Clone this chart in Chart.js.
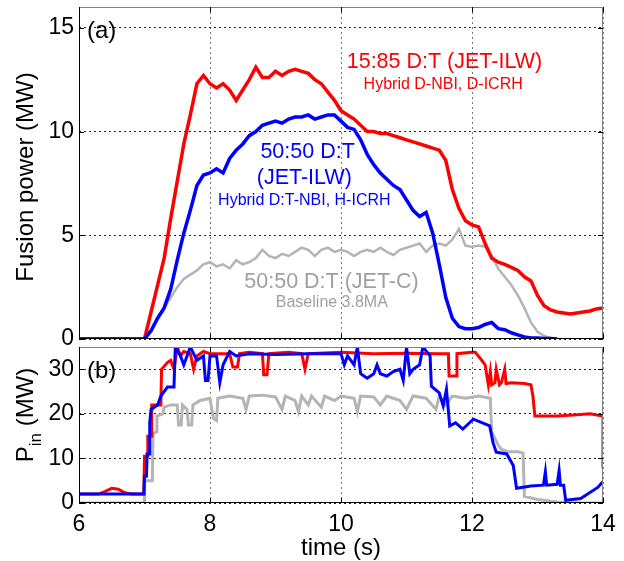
<!DOCTYPE html>
<html>
<head>
<meta charset="utf-8">
<script src="https://cdn.jsdelivr.net/npm/chart.js"></script>
<style>
  body { margin: 0; background: #fff; }
  canvas { position: absolute; left: 0; }
  #fusion { top: 0px; }
  #pin { top: 340px; }
</style>
</head>
<body>
<canvas id="fusion" width="624" height="350"></canvas>
<canvas id="pin" width="624" height="221"></canvas>
<script>
var FONT = 'Liberation Sans, Arial, Helvetica, sans-serif';
var RED = '#ff0000', BLUE = '#0000ff', GREY = '#b4b4b4';

var xTicks = [6, 8, 10, 12, 14];
var fusTicks = [0, 5, 10, 15];
var pinTicks = [0, 10, 20, 30];

// (a) fusion power, MW, sampled every 0.1 s
var tFus = [6.0, 7.0, 7.1, 7.2, 7.3, 7.4, 7.5, 7.6, 7.7, 7.8, 7.9,
    8.0, 8.1, 8.2, 8.3, 8.4, 8.5, 8.6, 8.7, 8.8, 8.9,
    9.0, 9.1, 9.2, 9.3, 9.4, 9.5, 9.6, 9.7, 9.8, 9.9,
    10.0, 10.1, 10.2, 10.3, 10.4, 10.5, 10.6, 10.7, 10.8, 10.9,
    11.0, 11.1, 11.2, 11.3, 11.4, 11.5, 11.6, 11.7, 11.8, 11.9,
    12.0, 12.1, 12.2, 12.3, 12.4, 12.5, 12.6, 12.7, 12.8, 12.9,
    13.0, 13.1, 13.2, 13.3, 13.4, 13.5, 13.6, 13.7, 13.8, 13.9, 14.0];
var fusRed = [0, 0, 1.3, 2.6, 3.9, 5.8, 7.6, 9.4, 10.8, 12.3, 12.7,
    12.3, 12.1, 12.3, 12.0, 11.5, 12.0, 12.5, 13.1, 12.6, 12.6,
    12.9, 12.7, 12.9, 13.0, 12.9, 12.8, 12.5, 12.3, 11.9, 11.5,
    11.0, 10.8, 10.6, 10.3, 10.0, 10.0, 9.9, 9.9, 9.8, 9.7,
    9.6, 9.5, 9.4, 9.3, 9.2, 9.1, 8.6, 7.2, 6.3, 5.7,
    5.5, 5.4, 4.6, 3.9, 3.7, 3.6, 3.45, 3.3, 3.0, 2.8,
    2.1, 1.6, 1.4, 1.3, 1.25, 1.2, 1.25, 1.3, 1.35, 1.45, 1.5];
var fusBlue = [0, 0, 0.4, 1.0, 1.5, 2.4, 3.8, 5.1, 6.2, 7.4, 7.9,
    8.0, 8.2, 8.0, 8.7, 9.1, 9.4, 9.8, 10.0, 10.3, 10.4,
    10.5, 10.4, 10.6, 10.7, 10.7, 10.8, 10.6, 10.7, 10.8, 10.8,
    10.5, 10.2, 10.1, 9.6, 8.9, 8.4, 8.0, 7.7, 7.4, 7.2,
    6.7, 6.2, 5.9, 6.1, 5.1, 3.6, 2.0, 1.0, 0.6, 0.5,
    0.5, 0.55, 0.7, 0.8, 0.5, 0.45, 0.3, 0.2, 0.1, 0.05,
    0.05, 0.03, 0.02, 0];
var fusGrey = [0, 0, 0.4, 1.0, 1.5, 2.0, 2.5, 2.9, 3.1, 3.3, 3.6,
    3.7, 3.5, 3.6, 3.4, 3.8, 3.6, 3.7, 3.9, 4.3, 4.0,
    3.9, 4.1, 4.0, 4.2, 4.4, 4.3, 4.0, 4.3, 4.4, 4.2,
    4.3, 4.2, 4.0, 4.2, 4.3, 4.2, 4.4, 4.2, 4.05, 4.3,
    4.4, 4.5, 4.6, 4.2, 4.5, 4.6, 4.5, 4.8, 5.3, 4.5,
    4.45, 4.5, 4.45, 4.0, 3.4, 3.0, 2.6, 2.1, 1.5, 0.8,
    0.35, 0.15, 0.05, 0, 0];

// (b) input power, MW
var pinRedT = [6.0, 6.3, 6.4, 6.5, 6.6, 6.7, 6.8, 6.99, 7.0, 7.04, 7.05, 7.1, 7.11, 7.25, 7.26, 7.35, 7.4, 7.45,
    7.5, 7.55, 7.6, 7.7, 7.75, 7.8, 7.9, 8.0, 8.3, 8.35, 8.42, 8.45, 8.6, 8.8, 8.82, 8.87, 8.9, 9.2, 9.4, 9.45,
    9.5, 10.0, 10.5, 11.0, 11.5, 11.64, 11.65, 11.76, 11.77, 12.0, 12.05, 12.15, 12.2, 12.25, 12.28, 12.3, 12.35,
    12.37, 12.42, 12.45, 12.5, 12.52, 12.6, 12.8, 12.9, 12.93, 12.96, 13.3, 13.6, 13.8, 14.0, 14.0];
var pinRedV = [2.0, 2.0, 2.6, 3.3, 3.1, 2.3, 2.0, 2.0, 10.5, 10.5, 15, 15, 22, 22, 30, 31.5, 32, 30,
    35, 33, 34, 33.5, 30, 33, 34, 33.5, 33.5, 30.5, 30.5, 33.5, 33.8, 33.5, 28.8, 28.8, 33.5, 33.8, 33.5, 30,
    33.5, 33.8, 33.5, 33.6, 33.5, 33.5, 28.5, 28.5, 33.5, 33.8, 33.8, 32, 31, 26.5, 29.5, 26.5, 27,
    30, 26.5, 27, 30, 26.8, 27, 26.8, 26.5, 24, 19.5, 19.5, 19.8, 20, 19.5, 7.8];
var pinBlueT = [6.0, 6.99, 7.0, 7.03, 7.04, 7.07, 7.08, 7.1, 7.2, 7.25, 7.3, 7.35, 7.45, 7.47, 7.55, 7.6, 7.7,
    7.8, 7.9, 7.93, 7.97, 8.0, 8.1, 8.15, 8.2, 8.3, 8.4, 8.6, 9.0, 9.5, 10.0, 10.05, 10.1, 10.2, 10.25, 10.3,
    10.4, 10.5, 10.55, 10.6, 10.7, 10.8, 10.9, 10.95, 11.0, 11.05, 11.1, 11.2, 11.25, 11.36, 11.38, 11.5,
    11.56, 11.61, 11.66, 11.75, 11.86, 12.02, 12.27, 12.32, 12.37, 12.53, 12.63, 12.68, 12.9, 13.09, 13.12,
    13.14, 13.3, 13.33, 13.35, 13.4, 13.43, 13.66, 13.92, 14.0];
var pinBlueV = [2.0, 2.0, 6, 6, 11, 11, 18, 21, 22, 24, 25, 26, 26, 35, 33, 31, 35,
    32, 33, 27.5, 27.5, 33, 33, 27, 31, 34, 33, 33.5, 33.3, 33.5, 33.5, 31, 33, 31, 35, 29,
    28, 29, 31, 29, 28.5, 29.5, 30, 27.5, 35, 29, 30, 31, 35, 33, 26.2, 24.7,
    21.8, 25.5, 17.3, 18, 16.6, 18.8, 17.3, 13.6, 11.4, 11, 8.4, 3.3, 3.8, 4.0, 7,
    4, 4.2, 7.3, 4, 4, 0.6, 1.0, 3.5, 4.8];
var pinGreyT = [6.0, 7.0, 7.0, 7.12, 7.13, 7.18, 7.19, 7.28, 7.3, 7.4, 7.5, 7.52, 7.56, 7.58, 7.65, 7.67, 7.72,
    7.74, 7.85, 8.0, 8.05, 8.1, 8.12, 8.3, 8.5, 8.55, 8.6, 8.8, 9.0, 9.1, 9.15, 9.3, 9.35, 9.4, 9.5, 9.55,
    9.7, 9.75, 9.9, 10.0, 10.2, 10.25, 10.3, 10.5, 10.6, 10.7, 10.9, 11.0, 11.1, 11.3, 11.45, 11.5, 11.6,
    11.7, 11.9, 12.1, 12.28, 12.3, 12.4, 12.45, 12.55, 12.7, 12.78, 12.8, 13.0, 13.3, 13.5, 14.0];
var pinGreyV = [0, 0, 5, 5, 15.5, 16, 19.5, 20, 21.5, 22, 22, 17.5, 17.5, 22, 21, 17.5, 17.5,
    22, 23, 23.5, 19, 18.5, 23.5, 24, 23.5, 21, 24, 24.2, 23.8, 21, 24, 23, 20.5, 24, 22, 24,
    21.5, 24, 23, 24, 23.5, 20.5, 24, 23.8, 22, 24, 23, 21, 24, 23.5, 21, 24, 22,
    24, 23.5, 24, 23.5, 16, 13, 12, 11.5, 11.5, 11.2, 1.5, 0.8, 0.2, 0, 0];

var fusNotes = [
    { text: '15:85 D:T (JET-ILW)', x: 11.58, y: 13.35, color: RED, size: 21.5 },
    { text: 'Hybrid D-NBI, D-ICRH', x: 11.56, y: 12.24, color: RED, size: 16 },
    { text: '50:50 D:T', x: 9.49, y: 9.0, color: BLUE, size: 21.5 },
    { text: '(JET-ILW)', x: 9.44, y: 7.74, color: BLUE, size: 21.5 },
    { text: 'Hybrid D:T-NBI, H-ICRH', x: 9.44, y: 6.68, color: BLUE, size: 16 },
    { text: '50:50 D:T (JET-C)', x: 9.855, y: 2.76, color: '#a0a0a0', size: 21.5 },
    { text: 'Baseline 3.8MA', x: 9.86, y: 1.74, color: '#a0a0a0', size: 16 }
];

function xy(ts, vs) {
    return vs.map(function (v, i) { return { x: ts[i], y: v }; });
}

function line(data, color, width) {
    return { data: data, borderColor: color, borderWidth: width, pointRadius: 0, tension: 0, fill: false,
        borderJoinStyle: 'miter' };
}

function setTicks(values) {
    return function (s) { s.ticks = values.map(function (v) { return { value: v }; }); };
}

// box, inward ticks, panel letter, y title and text notes
function framePlugin(letter, notes, drawTitle) {
    return {
        id: 'frame',
        afterDraw: function (chart) {
            var ctx = chart.ctx, a = chart.chartArea, sx = chart.scales.x, sy = chart.scales.y;
            ctx.save();
            ctx.lineWidth = 1;
            ctx.strokeStyle = '#808080';
            ctx.beginPath();
            ctx.moveTo(a.left, a.top + 0.5); ctx.lineTo(a.right - 0.5, a.top + 0.5); ctx.lineTo(a.right - 0.5, a.bottom);
            ctx.stroke();
            ctx.strokeStyle = '#000';
            ctx.beginPath();
            ctx.moveTo(a.left + 0.5, a.top); ctx.lineTo(a.left + 0.5, a.bottom - 0.5); ctx.lineTo(a.right, a.bottom - 0.5);
            sx.ticks.forEach(function (t) {
                var px = Math.round(sx.getPixelForValue(t.value)) + 0.5;
                ctx.moveTo(px, a.bottom); ctx.lineTo(px, a.bottom - 5);
                ctx.moveTo(px, a.top); ctx.lineTo(px, a.top + 5);
            });
            sy.ticks.forEach(function (t) {
                var py = Math.round(sy.getPixelForValue(t.value)) + 0.5;
                ctx.moveTo(a.left, py); ctx.lineTo(a.left + 5, py);
                ctx.moveTo(a.right, py); ctx.lineTo(a.right - 5, py);
            });
            ctx.stroke();

            ctx.fillStyle = '#000';
            ctx.font = '24px ' + FONT;
            ctx.textAlign = 'left';
            ctx.textBaseline = 'middle';
            ctx.fillText(letter, a.left + 8, a.top + 24);

            ctx.textAlign = 'center';
            notes.forEach(function (n) {
                ctx.fillStyle = n.color;
                ctx.font = n.size + 'px ' + FONT;
                ctx.fillText(n.text, sx.getPixelForValue(n.x), sy.getPixelForValue(n.y));
            });

            drawTitle(ctx);
            ctx.restore();
        }
    };
}

function baseOptions(yMax, yTicks, xAxisHeight, showX) {
    return {
        responsive: false,
        animation: false,
        events: [],
        layout: { padding: { left: 0, right: 21, top: 7, bottom: 0 } },
        plugins: { legend: { display: false }, tooltip: { enabled: false } },
        scales: {
            x: {
                type: 'linear', min: 6, max: 14,
                afterBuildTicks: setTicks(xTicks),
                ticks: { display: showX, color: '#000', padding: 8, font: { family: FONT, size: 23 } },
                grid: { color: '#777', drawTicks: false },
                border: { display: false, dash: [2, 3] },
                title: { display: showX, text: 'time (s)', color: '#000',
                    font: { family: FONT, size: 24, lineHeight: 1 }, padding: { top: 0, bottom: 1 } },
                afterFit: function (s) { s.height = xAxisHeight; s.paddingLeft = 0; s.paddingRight = 0; }
            },
            y: {
                min: 0, max: yMax,
                afterBuildTicks: setTicks(yTicks),
                ticks: { color: '#000', padding: 5, font: { family: FONT, size: 23 } },
                grid: { color: '#222', drawTicks: false },
                border: { display: false, dash: [2, 3] },
                afterFit: function (s) { s.width = 79; s.paddingTop = 0; s.paddingBottom = 0; }
            }
        }
    };
}

new Chart(document.getElementById('fusion'), {
    type: 'line',
    data: {
        datasets: [
            line(xy(tFus, fusBlue), BLUE, 3.5),
            line(xy(tFus, fusRed), RED, 3.5),
            line(xy(tFus, fusGrey), GREY, 2.5)
        ]
    },
    options: baseOptions(16, fusTicks, 11, false),
    plugins: [framePlugin('(a)', fusNotes, function (ctx) {
        ctx.save();
        ctx.translate(33, 177);
        ctx.rotate(-Math.PI / 2);
        ctx.fillStyle = '#000';
        ctx.font = '24px ' + FONT;
        ctx.textAlign = 'center';
        ctx.textBaseline = 'alphabetic';
        ctx.fillText('Fusion power (MW)', 0, 0);
        ctx.restore();
    })]
});

new Chart(document.getElementById('pin'), {
    type: 'line',
    data: {
        datasets: [
            line(xy(pinBlueT, pinBlueV), BLUE, 3),
            line(xy(pinRedT, pinRedV), RED, 3),
            line(xy(pinGreyT, pinGreyV), GREY, 3)
        ]
    },
    options: baseOptions(35, pinTicks, 58, true),
    plugins: [framePlugin('(b)', [], function (ctx) {
        var big = '24px ' + FONT, small = '17px ' + FONT;
        ctx.save();
        ctx.font = big;
        var wP = ctx.measureText('P').width, wM = ctx.measureText(' (MW)').width;
        ctx.font = small;
        var wS = ctx.measureText('in').width;
        var total = wP + wS + wM;
        ctx.translate(33, 75);
        ctx.rotate(-Math.PI / 2);
        ctx.fillStyle = '#000';
        ctx.textAlign = 'left';
        ctx.textBaseline = 'alphabetic';
        var x0 = -total / 2;
        ctx.font = big;
        ctx.fillText('P', x0, 0);
        ctx.font = small;
        ctx.fillText('in', x0 + wP, 8);
        ctx.font = big;
        ctx.fillText(' (MW)', x0 + wP + wS, 0);
        ctx.restore();
    })]
});
</script>
</body>
</html>
